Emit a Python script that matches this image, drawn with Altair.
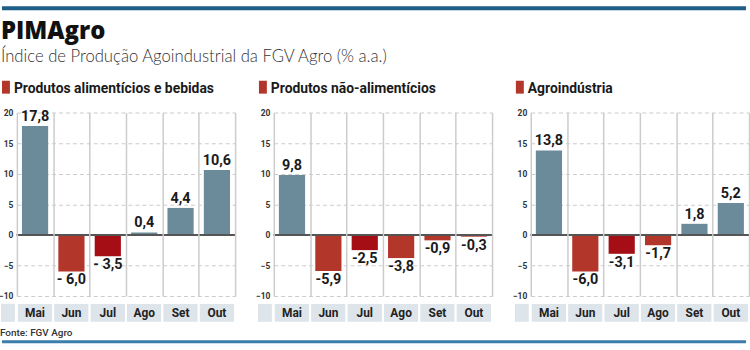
import altair as alt
import pandas as pd

# ---- data ----
months = ["Mai", "Jun", "Jul", "Ago", "Set", "Out"]

alim_values = [17.8, -6.0, -3.5, 0.4, 4.4, 10.6]
alim_labels = ["17,8", "- 6,0", "- 3,5", "0,4", "4,4", "10,6"]

nao_alim_values = [9.8, -5.9, -2.5, -3.8, -0.9, -0.3]
nao_alim_labels = ["9,8", "-5,9", "-2,5", "-3,8", "-0,9", "-0,3"]

agro_values = [13.8, -6.0, -3.1, -1.7, 1.8, 5.2]
agro_labels = ["13,8", "-6,0", "-3,1", "-1,7", "1,8", "5,2"]

panel_titles = ["Produtos alimentícios e bebidas", "Produtos não-alimentícios", "Agroindústria"]
y_ticks = [-10, -5, 0, 5, 10, 15, 20]

title_text = "PIMAgro"
subtitle_text = "Índice de Produção Agoindustrial da FGV Agro (% a.a.)"
source_text = "Fonte: FGV Agro"

# ---- style ----
NARROW = "Roboto, sans-serif"
POS = "#6b8b9a"
NEG = "#b3362b"
NEG_DARK = "#a50e14"
CELL = "#dde4ea"
GRID = "#cccccc"
W, H = 220, 185

one = pd.DataFrame({"k": [0]})


def panel(title, values, labels, first=False):
    df = pd.DataFrame({"mes": months, "valor": values, "rotulo": labels})
    base = alt.Chart(df)
    deco = alt.Chart(one)

    xscale = alt.Scale(domain=months, paddingInner=0, paddingOuter=0)
    xaxis = alt.Axis(title=None, labels=False, ticks=False, domain=False, grid=True,
                     tickBand="extent", gridColor=GRID, gridWidth=1.5)
    yscale = alt.Scale(domain=[-10, 20], nice=False, zero=False)
    yaxis = alt.Axis(values=y_ticks, title=None, ticks=False, domain=False,
                     labelFont=NARROW, labelFontWeight="bold", labelFontSize=8.5,
                     labelColor="#333333", labelPadding=4, minExtent=0,
                     gridDash=[4, 3], gridColor=GRID, gridWidth=1.2)
    x = alt.X("mes:N", scale=xscale, axis=xaxis, sort=months)
    y = alt.Y("valor:Q", scale=yscale, axis=yaxis)

    color = (alt.when(alt.datum.valor >= 0).then(alt.value(POS))
             .when(alt.datum.mes == "Jul").then(alt.value(NEG_DARK))
             .otherwise(alt.value(NEG)))

    cells = base.mark_rect(color=CELL, stroke="white", strokeWidth=2).encode(
        x=x, y=alt.value(192), y2=alt.value(212))
    empty_cell = deco.mark_rect(color=CELL).encode(
        x=alt.value(-16), x2=alt.value(-2), y=alt.value(193), y2=alt.value(211))
    bars = base.mark_bar(width=alt.RelativeBandSize(0.72)).encode(x=x, y=y, color=color)
    zero = base.mark_rule(color="#555555", strokeWidth=1.5).encode(
        y=alt.YDatum(0, scale=yscale, axis=yaxis))
    pos_lab = base.transform_filter(alt.datum.valor >= 0).mark_text(
        baseline="bottom", dy=-2, font=NARROW, fontWeight="bold", fontSize=14.5,
        color="#1a1a1a").encode(x=x, y=y, text="rotulo:N")
    neg_lab = base.transform_filter(alt.datum.valor < 0).mark_text(
        baseline="top", dy=2, font=NARROW, fontWeight="bold", fontSize=14.5,
        color="#1a1a1a").encode(x=x, y=y, text="rotulo:N")
    cat_lab = base.mark_text(baseline="middle", font=NARROW, fontWeight="bold",
                             fontSize=12, color="#222222").encode(
        x=x, y=alt.value(202), text="mes:N")
    square = deco.mark_rect(color=NEG).encode(
        x=alt.value(-15), x2=alt.value(-7), y=alt.value(-32), y2=alt.value(-19))
    ttl = deco.mark_text(text=title, align="left", baseline="alphabetic", font=NARROW,
                         fontWeight="bold", fontSize=14, color="#1a1a1a").encode(
        x=alt.value(-3), y=alt.value(-20))

    layers = [cells, empty_cell, bars, zero, pos_lab, neg_lab, cat_lab, square, ttl]

    if first:
        top_rule = deco.mark_rule(color="#1d5f87", strokeWidth=4).encode(
            x=alt.value(-15), x2=alt.value(735), y=alt.value(-105))
        main_title = deco.mark_text(text=title_text, align="left", baseline="alphabetic",
                                    font="Open Sans", fontWeight=800, fontSize=24,
                                    color="#111111").encode(x=alt.value(-16), y=alt.value(-74))
        sub = deco.mark_text(text=subtitle_text, align="left", baseline="alphabetic",
                             font="Lato", fontWeight=300, fontSize=16.8,
                             color="#333333").encode(x=alt.value(-16), y=alt.value(-51))
        src = deco.mark_text(text=source_text, align="left", baseline="middle",
                             font=NARROW, fontSize=10, fontWeight=500, color="#333333").encode(
            x=alt.value(-17), y=alt.value(222))
        bottom_rule = deco.mark_rule(color="#3b7dab", strokeWidth=3).encode(
            x=alt.value(-15), x2=alt.value(735), y=alt.value(231))
        layers += [top_rule, main_title, sub, src, bottom_rule]

    return alt.layer(*layers).properties(width=W, height=H)


p1 = panel(panel_titles[0], alim_values, alim_labels, first=True)
p2 = panel(panel_titles[1], nao_alim_values, nao_alim_labels)
p3 = panel(panel_titles[2], agro_values, agro_labels)

chart = alt.hconcat(p1, p2, p3, spacing=39, bounds="flush").properties(
    padding={"left": -2, "top": 5, "right": 0, "bottom": 0},
    background="white",
).configure_view(stroke=None)

chart.save("out.html", embed_options={"renderer": "svg", "actions": False})
